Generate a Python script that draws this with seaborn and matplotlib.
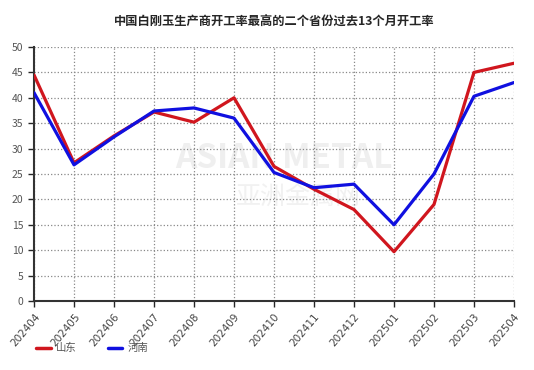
import pandas as pd
import matplotlib
matplotlib.use("Agg")
import matplotlib.pyplot as plt
import seaborn as sns

# =====================================================
# DATA
# =====================================================

months = ["202404", "202405", "202406", "202407", "202408", "202409", "202410",
          "202411", "202412", "202501", "202502", "202503", "202504"]
shandong = [44.5, 27.2, 32.5, 37.2, 35.2, 40.0, 26.5, 22.0, 18.0, 9.7, 19.0, 45.0, 46.8]
henan = [41.0, 26.8, 32.3, 37.4, 38.0, 36.0, 25.3, 22.3, 23.0, 15.0, 25.0, 40.3, 43.0]
series_names = ["山东", "河南"]
series_colors = ["#d0161e", "#1010e0"]

df = pd.DataFrame({
    "month": months * 2,
    "idx": list(range(len(months))) * 2,
    "value": shandong + henan,
    "province": [series_names[0]] * len(months) + [series_names[1]] * len(months),
})

# =====================================================
# PLOT
# =====================================================

sns.set_style("white")
plt.rcParams["font.family"] = ["Noto Sans CJK SC", "DejaVu Sans"]

fig = plt.figure(figsize=(5.34, 3.7), dpi=100)
ax = fig.add_axes([0.0637, 0.1865, 0.8988, 0.6865])

# faint watermark
ax.text(0.52, 0.56, "ASIAN METAL", transform=ax.transAxes, fontsize=24,
        color="#efefef", ha="center", va="center", fontweight="bold", zorder=0)
ax.text(0.55, 0.41, "亚洲金属网", transform=ax.transAxes, fontsize=18,
        color="#f1f1f1", ha="center", va="center", zorder=0)

sns.lineplot(
    data=df,
    x="idx",
    y="value",
    hue="province",
    palette=dict(zip(series_names, series_colors)),
    linewidth=2.3,
    ax=ax,
    legend=False,
    zorder=3,
)

ax.set_xlim(0, len(months) - 1)
ax.set_ylim(0, 50)
ax.set_xticks(range(len(months)))
ax.set_xticklabels(months, rotation=50, ha="right", rotation_mode="anchor",
                   fontsize=7.5, color="#444444", family="DejaVu Sans")
ax.set_yticks(range(0, 51, 5))
ax.tick_params(axis="y", labelsize=7.5, labelcolor="#555555", length=4,
               width=1, direction="out", left=True)
ax.tick_params(axis="x", length=4, width=1, direction="out", bottom=True)
ax.set_xlabel("")
ax.set_ylabel("")

ax.grid(True, linestyle=":", color="#888888", linewidth=0.9)
for side in ["top", "right"]:
    ax.spines[side].set_visible(False)
for side in ["left", "bottom"]:
    ax.spines[side].set_color("#333333")
    ax.spines[side].set_linewidth(1.5)

ax.set_title("中国白刚玉生产商开工率最高的二个省份过去13个月开工率",
             fontsize=8.8, fontweight="bold", pad=15)

handles = [plt.Line2D([], [], color=c, linewidth=2.5) for c in series_colors]
leg = fig.legend(handles, series_names, loc="lower left", bbox_to_anchor=(0.05, 0.02),
                 ncol=2, frameon=False, fontsize=7.5, handlelength=1.4,
                 columnspacing=3.0, handletextpad=0.5)
for t in leg.get_texts():
    t.set_color("#555555")

plt.savefig("out.png", dpi=100)
